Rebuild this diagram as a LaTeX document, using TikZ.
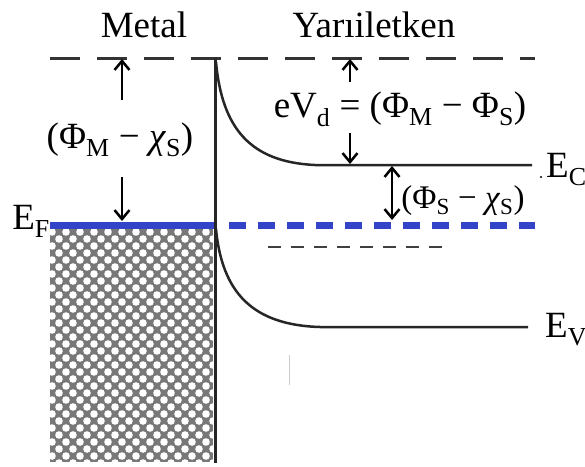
\documentclass[tikz,border=0pt]{standalone}
\usepackage{fontspec}
\setmainfont{Liberation Serif}
\usetikzlibrary{arrows.meta,positioning,calc}
\definecolor{fermiblue}{RGB}{52,68,200}
\definecolor{metalgrey}{RGB}{120,120,120}
\newcommand{\lo}[1]{\textsubscript{#1}}

\begin{document}
\begin{tikzpicture}[x=1pt,y=-1pt,
			lbl/.style={font=\fontsize{37}{39}\selectfont, inner sep=0pt},
			smalllbl/.style={font=\fontsize{33}{35}\selectfont, inner sep=0pt},
			band/.style={line width=2.5pt, black!85},
			vaclevel/.style={line width=3pt, black!80, dash pattern=on 30pt off 17pt},
			fermi/.style={line width=7pt, fermiblue},
			fermidash/.style={line width=7pt, fermiblue, dash pattern=on 17pt off 12pt},
			arrow/.style={-{Straight Barb[length=9pt,width=15pt]}, line width=2.5pt},
			dblarrow/.style={{Straight Barb[length=9pt,width=15pt]}-{Straight Barb[length=9pt,width=15pt]}, line width=2.5pt}
			]
			\useasboundingbox (0,0) rectangle (585,466);
			
			% Metal (hatched)
			\begin{scope}
				\clip (50,228) rectangle (213,462);
				\fill[metalgrey] (50,228) rectangle (213,462);
				\foreach \j in {0,...,34} {
					\foreach \i in {0,...,12} {
						\fill[white] ({52+14*\i+7*mod(\j,2)},{232+7*\j}) circle (3.8pt);
					}
				}
			\end{scope}
			
			% Coordinates
			\coordinate (vacL) at (50,58);
			\coordinate (vacR) at (535,58);
			\coordinate (ifTop) at (215,58);
			\coordinate (ifBot) at (215,463);
			\coordinate (efL) at (50,225);
			\coordinate (efM) at (215,225);
			\coordinate (efS) at (229,225);
			\coordinate (efR) at (535,225);
			\coordinate (cbTop) at (216,62);
			\coordinate (cbKnee) at (315,165);
			\coordinate (cbEnd) at (532,165);
			\coordinate (vbTop) at (216,229);
			\coordinate (vbKnee) at (320,327);
			\coordinate (vbEnd) at (528,327);
			\coordinate (eiL) at (268,247);
			\coordinate (eiR) at (450,247);
			
			% Levels
			\draw[vaclevel] (vacL) -- (vacR);
			\draw[fermi] (efL) -- (efM);
			\draw[fermidash] (efS) -- (efR);
			\draw[line width=2.5pt, black!75, dash pattern=on 13pt off 10pt] (eiL) -- (eiR);
			\draw[line width=3pt, black!85] (ifTop) -- (ifBot);
			\draw[band] (cbTop) .. controls (222,128) and (250,162) .. (cbKnee) -- (cbEnd);
			\draw[band] (vbTop) .. controls (222,292) and (252,325) .. (vbKnee) -- (vbEnd);
			\draw[black!20, line width=1pt] (289,355) -- (289,385);
			
			% Labels
			\node[lbl, anchor=base] (metal) at (144,37) {Metal};
			\node[lbl, anchor=base] (semi) at (374,37) {Yarıiletken};
			\node[lbl, anchor=base east] (ef) at (50,229) {E\lo{F}};
			\node[lbl, anchor=base west] (ec) at (546,177) {E\lo{C}};
			\node[lbl, anchor=base west] (ev) at (545,337) {E\lo{V}};
			\fill (541,177) circle (1.2pt);
			\node[lbl, anchor=base] (phiMchi) at (120,148) {(Φ\lo{M} − \textit{χ}\lo{S})};
			\node[lbl, anchor=base] (eVd) at (400,117) {eV\lo{d} = (Φ\lo{M} − Φ\lo{S})};
			\node[smalllbl, anchor=base] (phiSchi) at (463,208) {(Φ\lo{S} − \textit{χ}\lo{S})};
			
			% Arrows
			\draw[arrow] (122,100) -- (122,59);
			\draw[arrow] (122,177) -- (122,221);
			\draw[arrow] (350,82) -- (350,59);
			\draw[arrow] (350,133) -- (350,164);
			\draw[dblarrow] (392,166) -- (392,220);
		\end{tikzpicture}
\end{document}
